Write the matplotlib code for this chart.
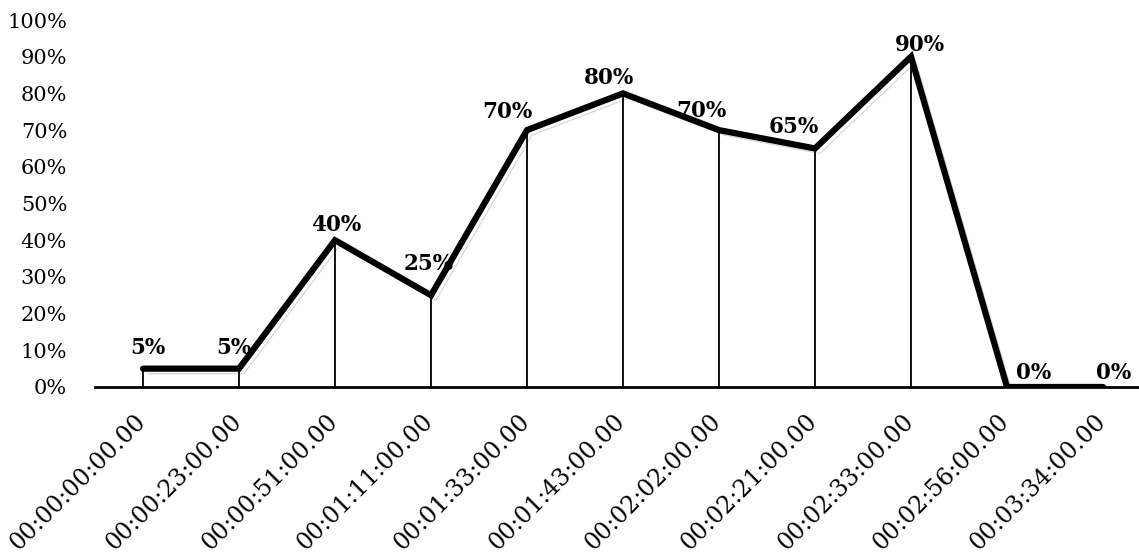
import numpy as np
import matplotlib
matplotlib.use('Agg')
from matplotlib import pyplot as plt
from matplotlib import transforms

# данные
times = ['00:00:00:00.00', '00:00:23:00.00', '00:00:51:00.00', '00:01:11:00.00',
         '00:01:33:00.00', '00:01:43:00.00', '00:02:02:00.00', '00:02:21:00.00',
         '00:02:33:00.00', '00:02:56:00.00', '00:03:34:00.00']
values = [5, 5, 40, 25, 70, 80, 70, 65, 90, 0, 0]

# смещения подписей (пиксели)
label_dx = [5, -5, 1, -2, -20, -14, -18, -21, 9, 27, 11]
label_dy = [21, 21, 15, 31, 18, 15, 19, 21, 12, 14, 14]

plt.rcParams['font.family'] = ['DejaVu Serif']

fig = plt.figure(figsize=(11.39, 5.56), dpi=100)
ax = fig.add_axes([95 / 1139, 1 - 387 / 556, 1 - 95 / 1139, (387 - 20) / 556])

x = np.arange(len(times))
y = np.array(values) / 100

# тень линии
shadow = transforms.offset_copy(ax.transData, fig=fig, x=5, y=-5, units='dots')
ax.plot(x, y, color='#d4d4d4', lw=0.8, transform=shadow, zorder=1)

# вертикальные линии
ax.vlines(x, 0, y, color='black', lw=1.3, zorder=2)

# основная линия
ax.plot(x, y, color='black', lw=4.5, solid_capstyle='round',
        solid_joinstyle='miter', zorder=3)

for xi, yi, v, dx, dy in zip(x, y, values, label_dx, label_dy):
    ax.annotate(f'{v}%', (xi, yi), xytext=(dx, dy), textcoords='offset pixels',
                ha='center', va='center', fontsize=15.5, fontweight='bold',
                annotation_clip=False, zorder=4)

ax.set_xlim(-0.5, -0.5 + (1139 - 95) / 96)
ax.set_ylim(0, 1)
ax.set_yticks(np.arange(0, 1.01, 0.1))
ax.set_yticklabels([f'{int(round(t * 100))}%' for t in np.arange(0, 1.01, 0.1)], fontsize=15)
ax.set_xticks(x)
ax.set_xticklabels(times, rotation=45, ha='right', va='center', rotation_mode='anchor', fontsize=17)

ax.tick_params(axis='y', length=0, pad=20)
ax.tick_params(axis='x', length=0, pad=22)
shift = transforms.ScaledTranslation(-1 / 100, 0, fig.dpi_scale_trans)
for lab in ax.get_xticklabels():
    lab.set_transform(lab.get_transform() + shift)

for s in ['top', 'right', 'left']:
    ax.spines[s].set_visible(False)
ax.spines['bottom'].set_linewidth(2)
ax.spines['bottom'].set_zorder(5)

fig.savefig('out.png', dpi=100)
